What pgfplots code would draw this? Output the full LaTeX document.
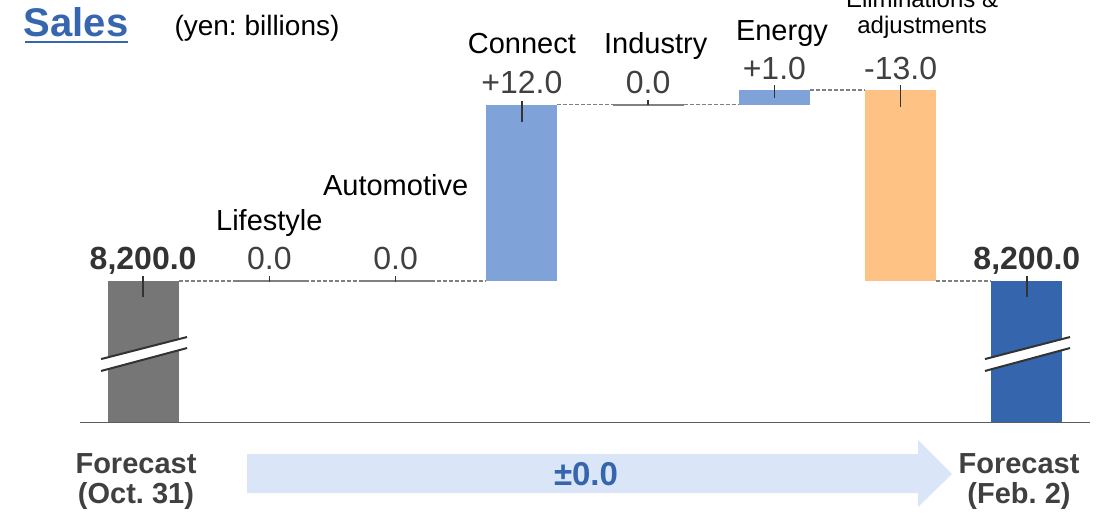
\documentclass[border=0pt]{standalone}
\usepackage{pgfplots}
\pgfplotsset{compat=1.18}
\usepackage{fontspec}
\setmainfont{Liberation Sans}
\frenchspacing
\definecolor{cgray}{HTML}{767676}
\definecolor{clblue}{HTML}{7FA3D8}
\definecolor{corange}{HTML}{FFC285}
\definecolor{cdblue}{HTML}{3465AD}
\definecolor{csales}{HTML}{3566AE}
\definecolor{carrow}{HTML}{DAE6F7}
\definecolor{ctext}{HTML}{404040}
\definecolor{cline}{HTML}{808080}
\definecolor{cdark}{HTML}{333333}
\pgfplotsset{wfbase/.style={at={(40pt,45.5pt)}, anchor=south west, scale only axis,
  width=505pt, height=211.5pt, xmin=-0.5, xmax=7.5, ymin=8190.34, ymax=8219.12,
  enlargelimits=false, hide axis, clip mode=individual}}
\newcommand{\fs}[1]{\fontsize{#1}{#1}\selectfont}
\begin{document}
\begin{tikzpicture}
\useasboundingbox (0,0) rectangle (553.5pt,257pt);
% arrow
\fill[carrow] (123.5pt,30pt) -- (459pt,30pt) -- (459pt,37pt) -- (476pt,20pt) -- (459pt,3.5pt) -- (459pt,10.5pt) -- (123.5pt,10.5pt) -- cycle;
\node[font=\fs{16.5}\bfseries, text=cdblue] at (293pt,20pt) {±0.0};
% header
\node[anchor=base, font=\fs{20}\bfseries, text=csales] at (38pt,238.5pt) {Sales};
\draw[csales, line width=1pt] (12.5pt,236pt) -- (64pt,236pt);
\node[anchor=base, font=\fs{14}] at (128.5pt,239pt) {(yen: billions)};
% bottom labels
\node[anchor=base, font=\fs{14.5}\bfseries, text=ctext] at (68pt,20.5pt) {Forecast};
\node[anchor=base, font=\fs{14.5}\bfseries, text=ctext] at (68pt,5.5pt) {(Oct. 31)};
\node[anchor=base, font=\fs{14.5}\bfseries, text=ctext] at (509.5pt,20.5pt) {Forecast};
\node[anchor=base, font=\fs{14.5}\bfseries, text=ctext] at (509.5pt,5.5pt) {(Feb. 2)};

\begin{axis}[wfbase]
% bars as rectangles (x from centre -/+ half width, y from start to end value)
\addplot[draw=none, fill=cgray] coordinates {(-0.281,8190.34) (0.281,8190.34) (0.281,8200) (-0.281,8200)} -- cycle;
\addplot[draw=none, fill=clblue] coordinates {(2.719,8200) (3.281,8200) (3.281,8212) (2.719,8212)} -- cycle;
\addplot[draw=none, fill=clblue] coordinates {(4.719,8212) (5.281,8212) (5.281,8213) (4.719,8213)} -- cycle;
\addplot[draw=none, fill=corange] coordinates {(5.719,8200) (6.281,8200) (6.281,8213) (5.719,8213)} -- cycle;
\addplot[draw=none, fill=cdblue] coordinates {(6.719,8190.34) (7.281,8190.34) (7.281,8200) (6.719,8200)} -- cycle;
% baseline
\addplot[cdark!80, line width=1pt] coordinates {(-0.5,8190.34) (7.5,8190.34)};
% dashed connectors
\addplot[cline, line width=0.6pt, dash pattern=on 2pt off 1pt] coordinates {(0.281,8200) (0.719,8200)};
\addplot[cline, line width=0.6pt, dash pattern=on 2pt off 1pt] coordinates {(1.281,8200) (1.719,8200)};
\addplot[cline, line width=0.6pt, dash pattern=on 2pt off 1pt] coordinates {(2.281,8200) (2.719,8200)};
\addplot[cline, line width=0.6pt, dash pattern=on 2pt off 1pt] coordinates {(3.281,8212) (3.719,8212)};
\addplot[cline, line width=0.6pt, dash pattern=on 2pt off 1pt] coordinates {(4.281,8212) (4.719,8212)};
\addplot[cline, line width=0.6pt, dash pattern=on 2pt off 1pt] coordinates {(5.281,8213) (5.719,8213)};
\addplot[cline, line width=0.6pt, dash pattern=on 2pt off 1pt] coordinates {(6.281,8200) (6.719,8200)};
% zero bars
\addplot[cline, line width=1pt] coordinates {(0.719,8200) (1.281,8200)};
\addplot[cline, line width=1pt] coordinates {(1.719,8200) (2.281,8200)};
\addplot[cline, line width=1pt] coordinates {(3.719,8212) (4.281,8212)};
% leader ticks
\addplot[cdark, line width=0.75pt] coordinates {(0,8200.34) (0,8198.91)};
\addplot[cdark, line width=0.75pt] coordinates {(1,8200.34) (1,8199.95)};
\addplot[cdark, line width=0.75pt] coordinates {(2,8200.34) (2,8199.95)};
\addplot[cdark, line width=0.75pt] coordinates {(3,8212.25) (3,8210.82)};
\addplot[cdark, line width=0.75pt] coordinates {(4,8212.34) (4,8211.95)};
\addplot[cdark, line width=0.75pt] coordinates {(5,8213.33) (5,8212.45)};
\addplot[cdark, line width=0.75pt] coordinates {(6,8213.33) (6,8211.83)};
\addplot[cdark, line width=0.75pt] coordinates {(7,8200.34) (7,8198.91)};
% break marks
\fill[white] (axis cs:-0.333,8194.69) -- (axis cs:0.348,8196.19) -- (axis cs:0.348,8195.44) -- (axis cs:-0.333,8193.88) -- cycle;
\draw[cdark, line width=1pt] (axis cs:-0.333,8194.69) -- (axis cs:0.348,8196.19);
\draw[cdark, line width=1pt] (axis cs:-0.333,8193.88) -- (axis cs:0.348,8195.44);
\fill[white] (axis cs:6.668,8194.69) -- (axis cs:7.342,8196.19) -- (axis cs:7.342,8195.44) -- (axis cs:6.668,8193.88) -- cycle;
\draw[cdark, line width=1pt] (axis cs:6.668,8194.69) -- (axis cs:7.342,8196.19);
\draw[cdark, line width=1pt] (axis cs:6.668,8193.88) -- (axis cs:7.342,8195.44);
% category labels
\node[anchor=base, font=\fs{14.5}] at (axis cs:1,8203.47) {Lifestyle};
\node[anchor=base, font=\fs{14.5}] at (axis cs:2,8205.85) {Automotive};
\node[anchor=base, font=\fs{14.5}] at (axis cs:3,8215.51) {Connect};
\node[anchor=base, font=\fs{14.5}] at (axis cs:4.06,8215.51) {Industry};
\node[anchor=base, font=\fs{14.5}] at (axis cs:5.06,8216.38) {Energy};
\node[anchor=base, font=\fs{12}] at (axis cs:6.17,8216.87) {adjustments};
\node[anchor=base, font=\fs{12}] at (axis cs:6.17,8218.64) {Eliminations \&};
% value labels
\node[anchor=base, font=\fs{16}\bfseries, text=cdark] at (axis cs:0,8200.75) {8,200.0};
\node[anchor=base, font=\fs{16}, text=ctext] at (axis cs:1,8200.75) {0.0};
\node[anchor=base, font=\fs{16}, text=ctext] at (axis cs:2,8200.75) {0.0};
\node[anchor=base, font=\fs{16}, text=ctext] at (axis cs:3,8212.79) {+12.0};
\node[anchor=base, font=\fs{16}, text=ctext] at (axis cs:4,8212.79) {0.0};
\node[anchor=base, font=\fs{16}, text=ctext] at (axis cs:5,8213.74) {+1.0};
\node[anchor=base, font=\fs{16}, text=ctext] at (axis cs:6,8213.74) {-13.0};
\node[anchor=base, font=\fs{16}\bfseries, text=cdark] at (axis cs:7,8200.75) {8,200.0};
\end{axis}
\end{tikzpicture}
\end{document}
